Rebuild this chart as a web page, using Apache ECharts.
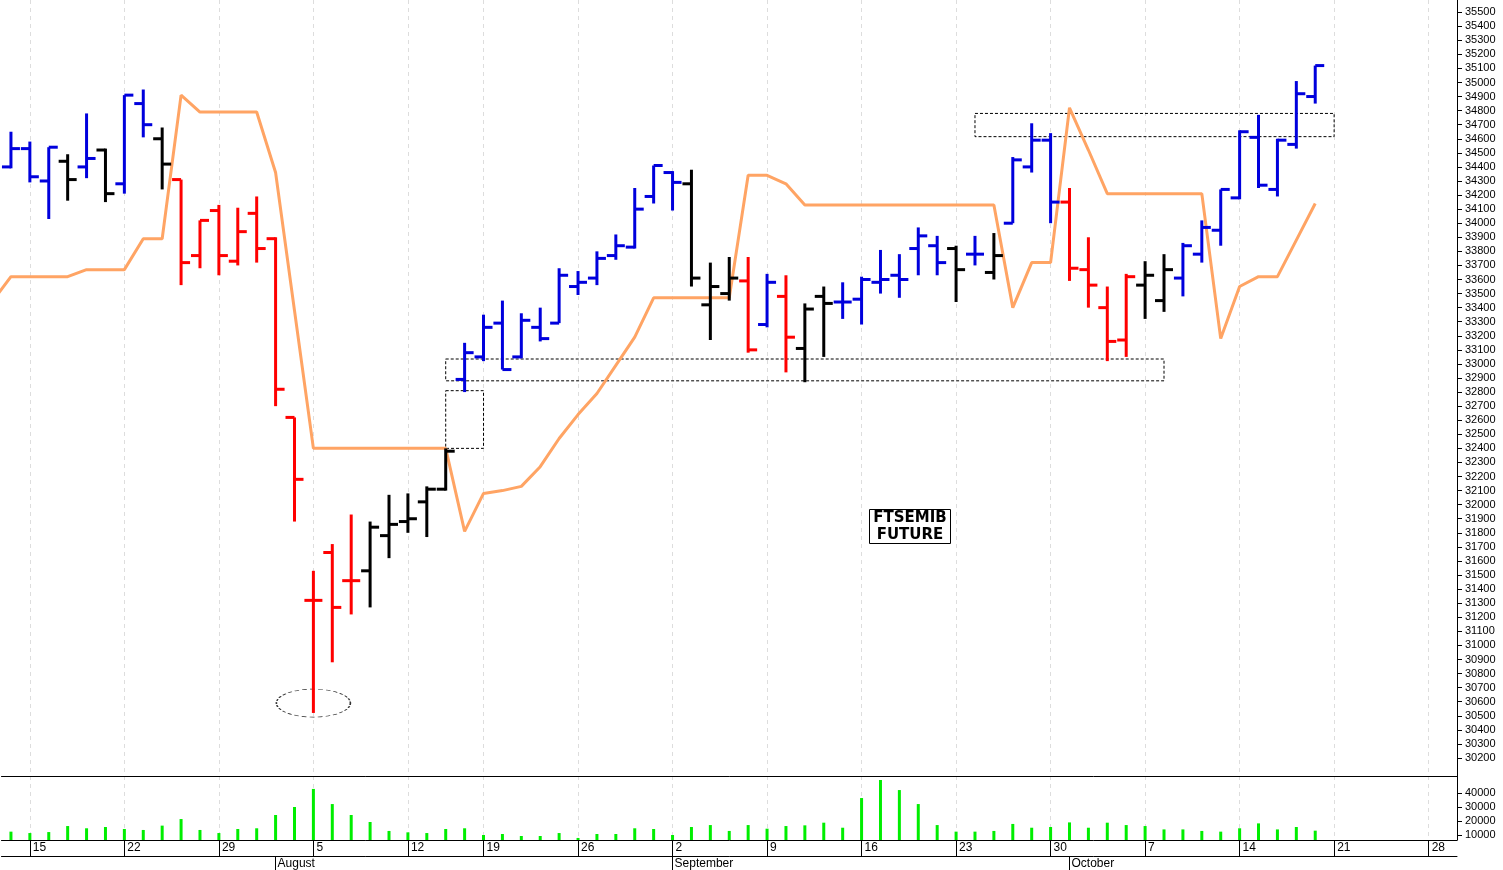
<!DOCTYPE html>
<html>
<head>
<meta charset="utf-8">
<script src="https://cdn.jsdelivr.net/npm/echarts@6/dist/echarts.min.js"></script>
<style>
  html, body { margin: 0; padding: 0; background: #fff; }
  #chart { width: 1503px; height: 870px; }
</style>
</head>
<body>
<div id="chart"></div>
<script>
// OHLC per trading day, from 2024-07-12 to 2024-10-18
const opens  = [34400,34530,34300,34440,34400,34520,34280,34850,34600,34310,33770,34090,33730,34070,33890,32620,31320,31660,31460,31530,31780,31880,32020,32110,32890,33050,33290,33050,33260,33290,33550,33610,33770,33830,34190,34360,34280,33420,33500,33590,33280,33480,33110,33480,33440,33460,33580,33630,33820,33840,33820,33780,33650,34000,34400,34590,34150,33670,33400,33170,33560,33450,33610,33780,33950,34180,34610,34240,34560,34900];
const highs  = [34650,34580,34540,34490,34780,34530,34910,34950,34680,34310,34020,34130,34110,34190,33900,32620,31530,31720,31930,31880,32070,32080,32130,32400,33150,33350,33450,33360,33400,33680,33660,33800,33920,34250,34410,34370,34380,33720,33760,33760,33640,33630,33430,33550,33580,33620,33810,33780,33970,33910,33840,33910,33930,34470,34710,34640,34250,33900,33550,33640,33730,33780,33860,34020,34240,34660,34770,34600,35010,35120];
const lows   = [34390,34290,34030,34160,34320,34150,34210,34610,34240,33560,33680,33630,33700,33720,32700,31880,30520,30880,31220,31270,31620,31800,31770,32100,32800,33020,32960,33040,33160,33290,33490,33560,33740,33820,34140,34090,33550,33170,33450,33080,33260,32940,32870,33050,33320,33280,33500,33470,33630,33630,33440,33700,33600,34000,34360,34000,33590,33400,33020,33050,33320,33370,33480,33720,33840,34170,34250,34190,34530,34850];
const closes = [34530,34330,34540,34310,34460,34210,34910,34700,34420,33720,34020,33770,33940,33820,32820,32180,31320,31270,31460,31840,31860,31900,32110,32380,33080,33260,32960,33310,33180,33630,33580,33750,33840,34100,34410,34290,33610,33550,33610,33100,33580,33190,33390,33430,33440,33600,33600,33600,33910,33720,33670,33780,33770,34450,34590,34150,33680,33560,33160,33620,33630,33670,33840,33970,34240,34650,34270,34590,34920,35120];
// b = blue, k = black, r = red
const barColors = 'bbbkbkbbkrrrrrrrrrrkkkkkbbbbbbbbbbbbkkkrbrkkbbbbbbkbkbbbrrrrkkbbbbbbbb';
const volumes = [12400,11400,12100,16400,14800,15700,14300,13600,16700,21400,13600,11400,14300,14800,24300,30000,42900,32100,24300,19300,12900,11900,11400,14300,14800,10000,10700,9300,9300,11400,7900,10700,10700,14800,14300,10000,15700,17100,12900,17100,14500,16400,16900,18800,15200,36400,49300,42100,32100,17100,12400,12400,12900,17900,15200,15700,19000,15200,18800,17100,16400,14000,14000,12900,12400,14800,18300,14000,15700,13100];
// orange stop line, first value belongs to the day before the first bar
const stopLine = [33440,33620,33620,33620,33620,33670,33670,33670,33890,33890,34910,34790,34790,34790,34790,34360,33380,32400,32400,32400,32400,32400,32400,32400,32400,31810,32080,32100,32130,32270,32470,32640,32790,32990,33190,33470,33470,33470,33470,33470,34340,34340,34280,34130,34130,34130,34130,34130,34130,34130,34130,34130,34130,34130,33400,33720,33720,34820,34520,34210,34210,34210,34210,34210,34210,33180,33550,33620,33620,33880,34140];

const priceTicks = [];
for (let v = 30200; v <= 35500; v += 100) priceTicks.push(v);
const volumeTicks = [10000, 20000, 30000, 40000];
const monthNames = { 7: 'July', 8: 'August', 9: 'September', 10: 'October' };

// trading days (Ferragosto closed), plus empty days after the last bar
const days = [];
let d = new Date(Date.UTC(2024, 6, 12));
while (days.length < 77) {
    const wd = d.getUTCDay();
    const iso = d.toISOString().slice(0, 10);
    if (wd !== 0 && wd !== 6 && iso !== '2024-08-15') days.push(new Date(d));
    d.setUTCDate(d.getUTCDate() + 1);
}
const mondays = [], monthStarts = [];
days.forEach((day, i) => {
    if (day.getUTCDay() === 1) mondays.push(i);
    if (i > 0 && day.getUTCMonth() !== days[i - 1].getUTCMonth()) monthStarts.push(i);
});

const ohlc = opens.map((o, i) => [i, o, highs[i], lows[i], closes[i]]);
const colorMap = { b: '#0000dd', k: '#000000', r: '#ff0000' };
const font = 'Liberation Sans, Arial, sans-serif';

function renderOhlc(params, api) {
    const i = api.value(0);
    const o = api.coord([i, api.value(1)]);
    const h = api.coord([i, api.value(2)]);
    const l = api.coord([i, api.value(3)]);
    const c = api.coord([i, api.value(4)]);
    const style = { stroke: colorMap[barColors[params.dataIndex]], lineWidth: 3 };
    return {
        type: 'group',
        children: [
            { type: 'line', shape: { x1: h[0], y1: h[1], x2: l[0], y2: l[1] }, style },
            { type: 'line', shape: { x1: o[0] - 9, y1: o[1], x2: o[0], y2: o[1] }, style },
            { type: 'line', shape: { x1: c[0], y1: c[1], x2: c[0] + 9, y2: c[1] }, style }
        ]
    };
}

const dashBox = { color: 'rgba(0,0,0,0)', borderColor: '#000', borderWidth: 1, borderType: [3, 2] };
const weekGrid = { show: true, lineStyle: { color: '#dddddd', type: [4, 4], width: 1 } };

let option = {
    animation: false,
    title: {
        text: 'FTSEMIB\nFUTURE',
        left: 906, top: 509, textAlign: 'center',
        borderColor: '#000', borderWidth: 1,
        padding: [1, 4, 0, 4],
        textStyle: { fontFamily: 'DejaVu Sans, sans-serif', fontSize: 15, fontWeight: 'bold', lineHeight: 17, color: '#000' }
    },
    grid: [
        { left: 1.5, right: 46, top: 0, height: 776 },
        { left: 1.5, right: 46, top: 776, height: 64 }
    ],
    xAxis: [
        {
            type: 'value', gridIndex: 0, min: -0.5, max: 76.5,
            axisLine: { onZero: false, lineStyle: { color: '#000', width: 1 } },
            axisTick: { show: false, customValues: mondays }, axisLabel: { show: false },
            splitLine: weekGrid
        },
        {
            type: 'value', gridIndex: 1, min: -0.5, max: 76.5, position: 'bottom',
            axisLine: { onZero: false, lineStyle: { color: '#000', width: 1 } },
            axisTick: { customValues: mondays, length: 16, lineStyle: { color: '#000' } },
            axisLabel: {
                customValues: mondays, align: 'left', margin: 2, padding: [0, 0, 0, 3],
                fontFamily: font, fontSize: 12, color: '#000',
                formatter: v => String(days[Math.round(v)].getUTCDate())
            },
            splitLine: weekGrid
        },
        {
            type: 'value', gridIndex: 1, min: -0.5, max: 76.5, position: 'bottom', offset: 16,
            axisLine: { onZero: false, lineStyle: { color: '#000', width: 1 } },
            axisTick: { customValues: monthStarts, length: 14, lineStyle: { color: '#000' } },
            axisLabel: {
                customValues: monthStarts, align: 'left', margin: 2, padding: [0, 0, 0, 2],
                fontFamily: font, fontSize: 12, color: '#000',
                formatter: v => monthNames[days[Math.round(v)].getUTCMonth() + 1]
            },
            splitLine: { show: false }
        }
    ],
    yAxis: [
        {
            type: 'value', gridIndex: 0, position: 'right', min: 30072, max: 35586,
            axisLine: { show: true, onZero: false, lineStyle: { color: '#000', width: 1 } },
            axisTick: { show: true, customValues: priceTicks, length: 5, lineStyle: { color: '#000' } },
            axisLabel: { customValues: priceTicks, margin: 8, fontFamily: font, fontSize: 11, color: '#000', formatter: v => String(v) },
            splitLine: { show: false }
        },
        {
            type: 'value', gridIndex: 1, position: 'right', min: 6430, max: 52140,
            axisLine: { show: true, onZero: false, lineStyle: { color: '#000', width: 1 } },
            axisTick: { show: true, customValues: volumeTicks, length: 5, lineStyle: { color: '#000' } },
            axisLabel: { customValues: volumeTicks, margin: 8, fontFamily: font, fontSize: 11, color: '#000', formatter: v => String(v) },
            splitLine: { show: false }
        }
    ],
    series: [
        {
            type: 'line', xAxisIndex: 0, yAxisIndex: 0,
            data: stopLine.map((v, i) => [i - 1, v]),
            symbol: 'none', lineStyle: { color: '#ffa464', width: 3 }, z: 1,
            markArea: {
                silent: true, itemStyle: dashBox, label: { show: false },
                data: [
                    [{ coord: [51, 34780] }, { coord: [70, 34615] }],
                    [{ coord: [23, 33035] }, { coord: [61, 32880] }],
                    [{ coord: [23, 32810] }, { coord: [25, 32400] }]
                ]
            }
        },
        {
            type: 'custom', xAxisIndex: 0, yAxisIndex: 0,
            data: ohlc, renderItem: renderOhlc,
            encode: { x: 0, y: [1, 2, 3, 4] }, z: 3
        },
        {
            type: 'scatter', xAxisIndex: 0, yAxisIndex: 0,
            data: [[16, 30590]], symbol: 'circle', symbolSize: [74, 28],
            itemStyle: { color: 'rgba(0,0,0,0)', borderColor: '#000', borderWidth: 1, borderType: [3, 2] },
            silent: true, z: 2
        },
        {
            type: 'bar', xAxisIndex: 1, yAxisIndex: 1,
            data: volumes.map((v, i) => [i, v]), barWidth: 3,
            itemStyle: { color: '#00ee00' }
        }
    ]
};

let chart = echarts.init(document.getElementById('chart'));
chart.setOption(option);
</script>
</body>
</html>
